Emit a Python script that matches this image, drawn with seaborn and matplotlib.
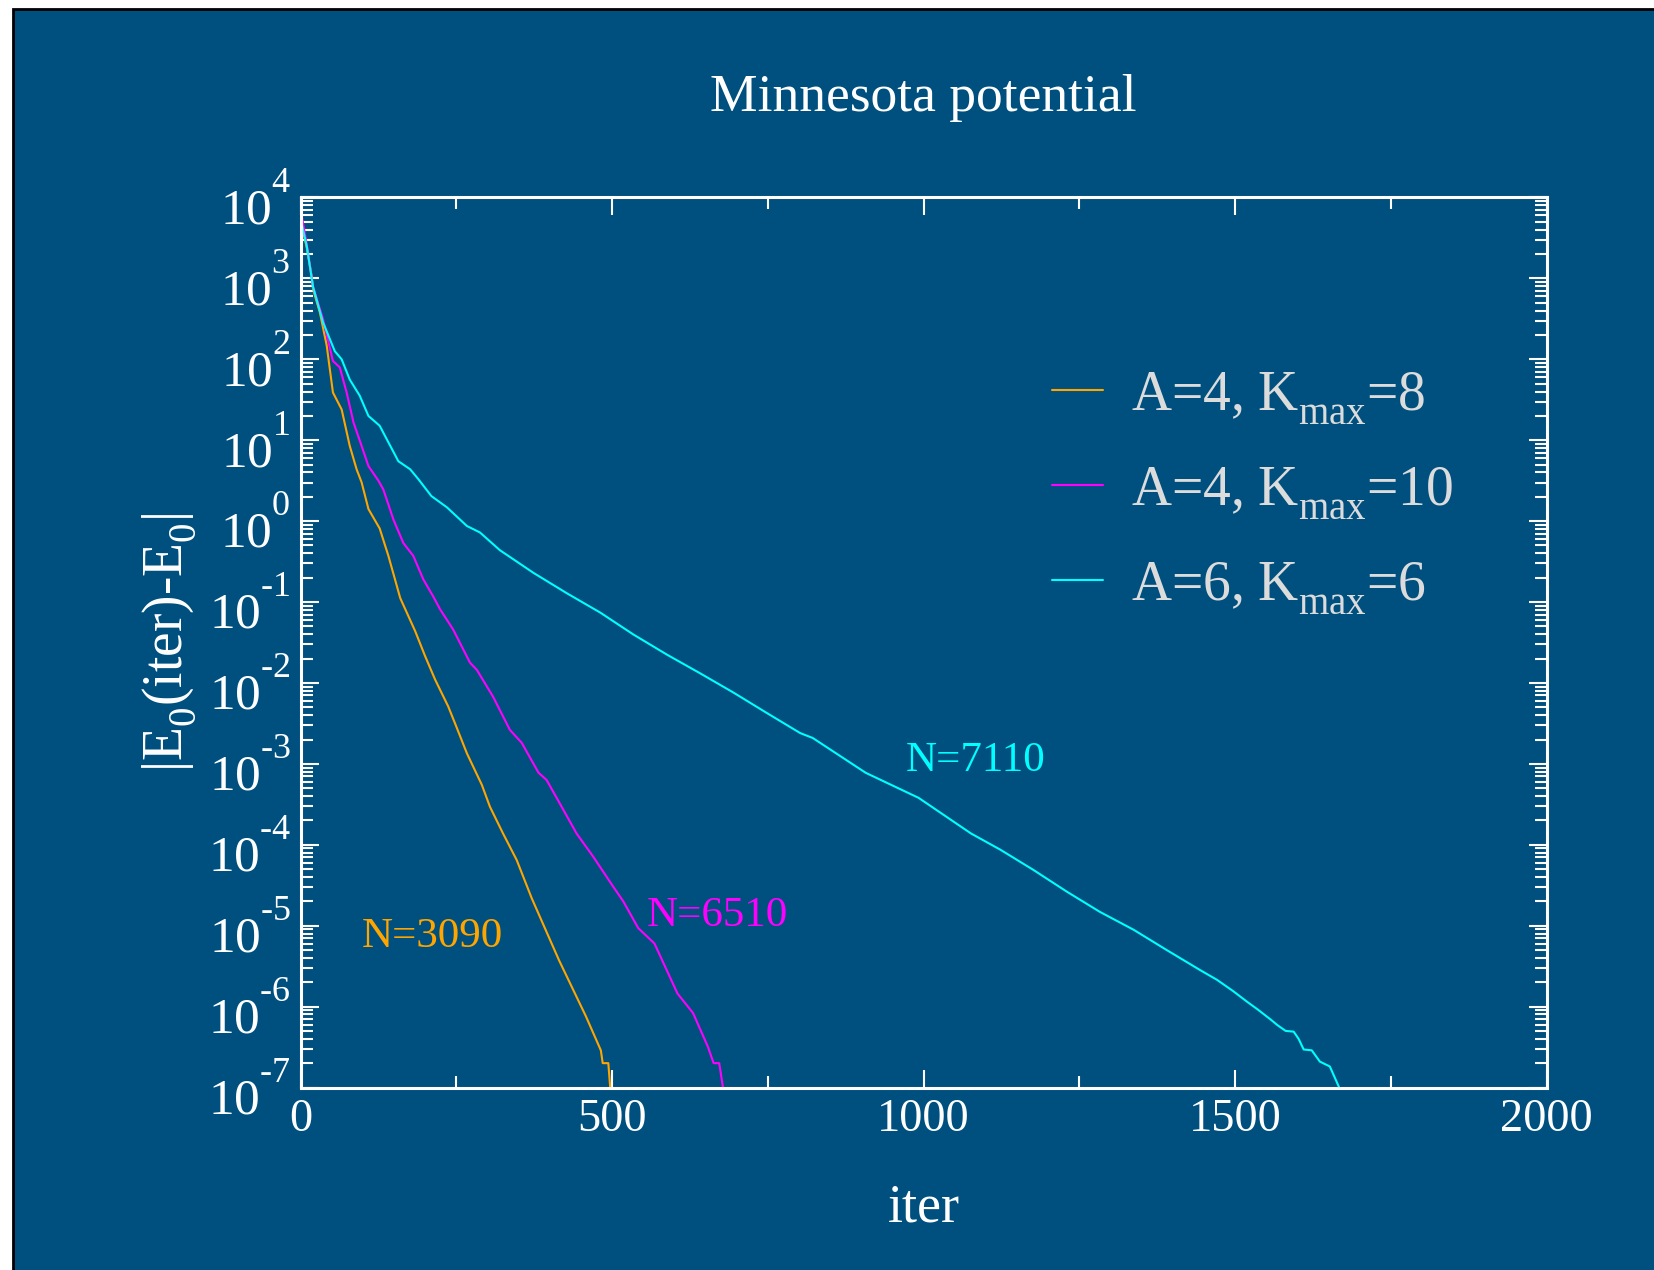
import numpy as np
import pandas as pd
import seaborn as sns
import matplotlib.pyplot as plt
from matplotlib import _mathtext
from matplotlib.ticker import MultipleLocator, LogLocator, FuncFormatter, NullFormatter
from matplotlib.patches import Rectangle
from matplotlib.transforms import ScaledTranslation

# data: iteration vs |E0(iter)-E0|
iter_a4k8 = [2, 10, 18, 20, 31, 42, 52, 66, 79, 90, 98, 109, 127, 141, 160, 184, 200,
             216, 237, 248, 267, 291, 304, 325, 347, 371, 395, 415, 458, 482, 485, 494, 497]
err_a4k8 = [4467, 2399, 1047, 741, 380, 148, 38.9, 24.0, 8.51, 4.37, 3.02, 1.41, 0.813,
            0.372, 0.112, 0.0437, 0.0214, 0.0110, 5.13e-3, 3.16e-3, 1.35e-3, 5.50e-4,
            2.95e-4, 1.38e-4, 6.46e-5, 2.19e-5, 8.32e-6, 3.72e-6, 7.59e-7, 2.88e-7,
            2.0e-7, 2.0e-7, 1.0e-7]

iter_a4k10 = [2, 10, 20, 36, 52, 63, 74, 85, 98, 109, 125, 133, 149, 165, 181, 197, 213,
              224, 245, 272, 283, 309, 336, 355, 382, 395, 422, 443, 470, 502, 518, 542,
              568, 605, 630, 654, 663, 672, 678]
err_a4k10 = [5888, 2630, 794, 316, 95.5, 79.4, 38.9, 16.6, 8.51, 4.79, 3.16, 2.45, 1.05,
             0.537, 0.372, 0.191, 0.117, 0.0813, 0.0457, 0.0178, 0.0145, 6.76e-3, 2.63e-3,
             1.82e-3, 7.76e-4, 6.31e-4, 2.69e-4, 1.38e-4, 7.08e-5, 3.02e-5, 2.0e-5,
             9.33e-6, 6.03e-6, 1.45e-6, 8.32e-7, 3.16e-7, 2.0e-7, 2.0e-7, 1.0e-7]

iter_a6k6 = [2, 10, 20, 36, 55, 66, 79, 95, 109, 127, 157, 176, 189, 210, 235, 267, 288,
             320, 374, 427, 481, 534, 588, 641, 695, 748, 802, 822, 907, 992, 1076, 1123,
             1176, 1230, 1283, 1337, 1390, 1444, 1471, 1497, 1519, 1537, 1557, 1568, 1581,
             1594, 1602, 1610, 1623, 1636, 1652, 1667]
err_a6k6 = [4677, 2512, 794, 288, 126, 100, 56.2, 35.5, 19.95, 15.1, 5.50, 4.37, 3.31,
            2.04, 1.48, 0.871, 0.724, 0.437, 0.229, 0.129, 0.0741, 0.0398, 0.0224, 0.0132,
            7.59e-3, 4.27e-3, 2.40e-3, 2.09e-3, 7.76e-4, 3.80e-4, 1.38e-4, 8.71e-5,
            4.90e-5, 2.63e-5, 1.48e-5, 8.91e-6, 5.01e-6, 2.82e-6, 2.14e-6, 1.55e-6,
            1.15e-6, 9.12e-7, 6.92e-7, 5.89e-7, 5.01e-7, 4.90e-7, 3.98e-7, 2.95e-7,
            2.88e-7, 2.09e-7, 1.82e-7, 1.0e-7]

runs = ["a4k8", "a4k10", "a6k6"]
legend_labels = [r"A=4, K$_\mathrm{max}$=8", r"A=4, K$_\mathrm{max}$=10", r"A=6, K$_\mathrm{max}$=6"]
colors = ["#FFA500", "#FF00FF", "#00FFFF"]

bg = "#00507F"
HY = "\u2010"  # short hyphen instead of the wide math minus

df = pd.concat([
    pd.DataFrame({"iter": iter_a4k8, "err": err_a4k8, "run": "a4k8"}),
    pd.DataFrame({"iter": iter_a4k10, "err": err_a4k10, "run": "a4k10"}),
    pd.DataFrame({"iter": iter_a6k6, "err": err_a6k6, "run": "a6k6"}),
], ignore_index=True)

sns.set_style("ticks")
plt.rcParams["font.family"] = ["Liberation Serif", "DejaVu Serif"]
plt.rcParams["mathtext.fontset"] = "custom"
plt.rcParams["mathtext.rm"] = "Liberation Serif"
plt.rcParams["mathtext.it"] = "Liberation Serif:italic"
plt.rcParams["mathtext.bf"] = "Liberation Serif:bold"

# raise superscripts / drop subscripts a bit more (grace-like look)
try:
    _mathtext.FontConstantsBase.sup1 = 1.35
    _mathtext.FontConstantsBase.sub1 = 0.55
except Exception:
    pass

fig = plt.figure(figsize=(16.54, 12.70), dpi=100)
fig.patch.set_facecolor("white")
fig.patches.append(Rectangle((13 / 1654, -0.05), 1.1, 1.05 - 9 / 1270,
                             transform=fig.transFigure, facecolor=bg,
                             edgecolor="black", linewidth=2, zorder=-1))

ax = fig.add_axes([0.1817, 0.1437, 0.7534, 0.7008])
ax.set_facecolor(bg)

sns.lineplot(data=df, x="iter", y="err", hue="run", hue_order=runs,
             palette=dict(zip(runs, colors)), estimator=None, sort=False,
             linewidth=1.5, ax=ax)

ax.set_yscale("log")
ax.set_xlim(0, 2000)
ax.set_ylim(1e-7, 1e4)


def exp_label(v, pos):
    e = int(round(np.log10(v)))
    s = str(e).replace("-", HY)
    return r"$\mathregular{10^{%s}}$" % s


ax.xaxis.set_major_locator(MultipleLocator(500))
ax.xaxis.set_minor_locator(MultipleLocator(250))
ax.yaxis.set_major_locator(LogLocator(base=10, numticks=20))
ax.yaxis.set_minor_locator(LogLocator(base=10, subs=np.arange(2, 10), numticks=20))
ax.yaxis.set_major_formatter(FuncFormatter(exp_label))
ax.yaxis.set_minor_formatter(NullFormatter())

ax.tick_params(which="both", direction="in", top=True, right=True, colors="white",
               width=1.5)
ax.tick_params(axis="x", labelsize=33.5, pad=8)
ax.tick_params(axis="y", labelsize=37, pad=7)
ax.tick_params(which="major", length=13)
ax.tick_params(which="minor", length=8.5)
for s in ax.spines.values():
    s.set_color("white")
    s.set_linewidth(2.2)

ax.set_title("Minnesota potential", color="white", fontsize=38.5, pad=62)
ax.set_xlabel("iter", color="white", fontsize=39, labelpad=30)
ax.set_ylabel(r"$\mathregular{|E_0(iter)%sE_0|}$" % HY, color="white", fontsize=40, labelpad=7)

ax.text(98, 5.5e-6, "N=3090", color=colors[0], fontsize=31, va="baseline")
ax.text(556, 9.8e-6, "N=6510", color=colors[1], fontsize=31, va="baseline")
ax.text(972, 8.1e-4, "N=7110", color=colors[2], fontsize=31, va="baseline")

handles, _ = ax.get_legend_handles_labels()
ax.legend(handles, legend_labels, loc="upper left", bbox_to_anchor=(0.603, 0.807),
          frameon=False, fontsize=40, handlelength=0.92, handletextpad=0.5,
          labelspacing=0.7, borderpad=0, borderaxespad=0, labelcolor="#DCDCDC")

fig.canvas.draw()
shift = ScaledTranslation(0, -5 / 72, fig.dpi_scale_trans)
for lbl in ax.get_yticklabels():
    lbl.set_va("center")
    lbl.set_transform(lbl.get_transform() + shift)

plt.savefig("out.png", dpi=100, facecolor=fig.get_facecolor())
plt.close()
